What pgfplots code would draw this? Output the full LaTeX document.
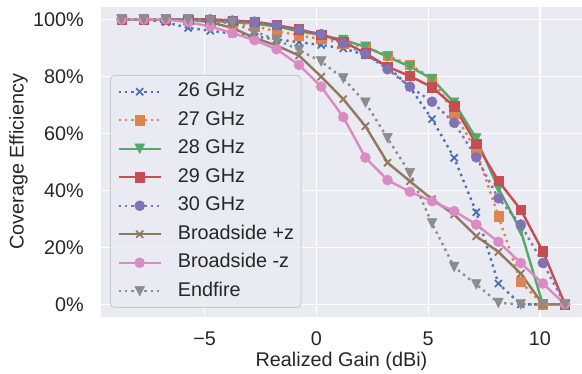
\documentclass[border=0pt]{standalone}
\usepackage{fontspec}
\setmainfont{Liberation Sans}
\usepackage{pgfplots}
\usepackage{pgfplotstable}
\pgfplotsset{compat=1.18}
\definecolor{bg}{HTML}{EAEAF2}
\definecolor{txt}{HTML}{262626}
\definecolor{cA}{HTML}{4C72B0}
\definecolor{cB}{HTML}{DD8452}
\definecolor{cC}{HTML}{55A868}
\definecolor{cD}{HTML}{C44E52}
\definecolor{cE}{HTML}{8172B3}
\definecolor{cF}{HTML}{937860}
\definecolor{cG}{HTML}{DA8BC3}
\definecolor{cH}{HTML}{8C8C8C}
\pgfdeclareplotmark{mv}{%
  \pgfpathmoveto{\pgfqpoint{0pt}{-\pgfplotmarksize}}%
  \pgfpathlineto{\pgfqpoint{-\pgfplotmarksize}{\pgfplotmarksize}}%
  \pgfpathlineto{\pgfqpoint{\pgfplotmarksize}{\pgfplotmarksize}}%
  \pgfpathclose\pgfusepathqfillstroke}

\pgfplotstableread{
x      a     b     c     d     e     f     g     h
-8.72  100   100   100   100   100   100   100   100
-7.73  100   100   100   100   100   100   100   100
-6.74  99    100   100   100   100   100   100   100
-5.74  97    100   100   100   100   100   99    100
-4.75  96    99.3  99.5  100   100   99    97.5  99.5
-3.76  95    98.6  99    99.6  99.6  97    95.2  98.8
-2.77  94    97.6  98.5  99.2  99.2  93.5  92.7  95.7
-1.78  93    95.8  97.5  98    98    90.8  89.5  92.8
-0.78  92    94.4  95.8  96.5  96.5  87.3  84    89.3
0.21   91    93.1  94.5  94.6  94.8  79.9  76.4  85.2
1.20   89.8  91.6  92.8  92.2  91.6  72    65.7  79.3
2.19   87.5  90.4  90.4  88.1  87.8  62.5  51.5  70.8
3.18   83.4  87.2  86.9  83.4  82.5  49.7  43.6  58.3
4.18   76.2  84    83.4  80.1  76.4  43.2  39.5  46
5.17   65    79.3  79.1  76.2  71.1  36.9  36.2  28.4
6.16   51.4  67    70.8  69.5  63.7  31.5  32.7  13.1
7.15   32.3  54    58.2  56.3  51.6  23.9  28    7
8.14   7.3   30.9  40.7  43.3  37.2  18.4  21.9  0.5
9.14   0     7.8   25.8  33.2  28    10.8  14.5  0
10.13  0     0     0     18.6  14.5  0     7.3   0
11.12  nan   nan   nan   0     0     0     0     0
}\data

\begin{document}
\begin{tikzpicture}[x=1pt,y=1pt]
\useasboundingbox (0,0) rectangle (582,374);
\begin{axis}[
  at={(101pt,57pt)}, anchor=south west,
  width=481pt, height=310.3pt, scale only axis,
  xmin=-9.64, xmax=11.88, ymin=-4.45, ymax=104.45,
  axis background/.style={fill=bg},
  axis line style={draw=none},
  major tick length=0pt,
  grid=major,
  major grid style={white, line width=1.1pt},
  xtick={-5,0,5,10},
  xticklabels={−5,0,5,10},
  ytick={0,20,40,60,80,100},
  yticklabels={0\%,20\%,40\%,60\%,80\%,100\%},
  ticklabel style={font=\fontsize{19.8}{23}\selectfont, text=txt, inner sep=0pt},
  xticklabel style={anchor=base, yshift=-29pt},
  yticklabel style={anchor=east, xshift=-17pt},
  xlabel={Realized Gain (dBi)},
  ylabel={Coverage Efficiency},
  label style={font=\fontsize{19.8}{23}\selectfont, text=txt, inner sep=0pt},
  xlabel style={at={(axis description cs:0.5,-0.1595)}, anchor=base},
  ylabel style={at={(axis description cs:-0.1611,0.5)}, anchor=base},
  unbounded coords=jump,
  every axis plot/.append style={line width=2.4pt},
  legend image code/.code={\draw[mark repeat=2,mark phase=2,fill opacity=1,#1] plot coordinates {(0pt,0pt) (21pt,0pt) (42pt,0pt)};},
  legend cell align=left,
  legend style={at={(axis description cs:0.0187,0.029)}, anchor=south west,
    fill=bg, fill opacity=0.8, draw opacity=1, text opacity=1,
    draw=black!20, line width=1pt, rounded corners=4pt,
    font=\fontsize{19.8}{23}\selectfont, text=txt,
    inner sep=7pt, row sep=10pt,
    nodes={inner sep=0pt, text height=14.5pt, text depth=4pt},
    /tikz/every odd column/.append style={column sep=16pt}},
]
\addplot[cA, dash pattern=on 2.4pt off 4pt, mark=x, mark size=5pt, mark options={solid, line width=1.8pt}] table[x=x,y=a] {\data};
\addlegendentry{26 GHz}
\addplot[cB, dash pattern=on 2.4pt off 4pt, mark=square*, mark size=4.6pt, mark options={solid, line width=0.5pt}] table[x=x,y=b] {\data};
\addlegendentry{27 GHz}
\addplot[cC, mark=mv, mark size=4.8pt, mark options={solid, line width=0.5pt}] table[x=x,y=c] {\data};
\addlegendentry{28 GHz}
\addplot[cD, mark=square*, mark size=4.6pt, mark options={solid, line width=0.5pt}] table[x=x,y=d] {\data};
\addlegendentry{29 GHz}
\addplot[cE, dash pattern=on 2.4pt off 4pt, mark=*, mark size=5pt, mark options={solid, line width=0.5pt}] table[x=x,y=e] {\data};
\addlegendentry{30 GHz}
\addplot[cF, mark=x, mark size=5pt, mark options={solid, line width=1.8pt}] table[x=x,y=f] {\data};
\addlegendentry{Broadside +z}
\addplot[cG, mark=*, mark size=5pt, mark options={solid, line width=0.5pt}] table[x=x,y=g] {\data};
\addlegendentry{Broadside -z}
\addplot[cH, dash pattern=on 2.4pt off 4pt, mark=mv, mark size=4.8pt, mark options={solid, line width=0.5pt}] table[x=x,y=h] {\data};
\addlegendentry{Endfire}
\end{axis}
\end{tikzpicture}
\end{document}
